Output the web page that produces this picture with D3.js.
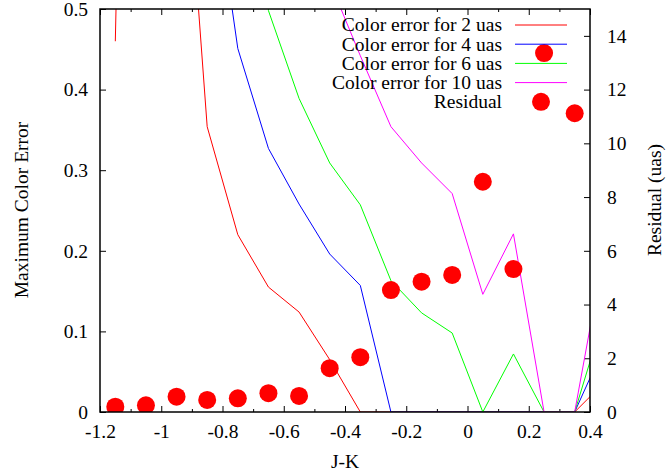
<!DOCTYPE html>
<html><head><meta charset="utf-8">
<script src="https://cdn.jsdelivr.net/npm/d3@7"></script>
<style>
body{margin:0;background:#fff}
text{font-family:"Liberation Serif","Times New Roman",serif;fill:#000}
</style>
</head><body><svg id="c" width="666" height="474"></svg>
<script>
// ---- data ----
const jk = [-1.15,-1.05,-0.95,-0.85,-0.75,-0.65,-0.55,-0.45,-0.35,-0.25,-0.15,-0.05,0.05,0.15,0.25,0.35,0.45];
const err2  = [0.46, 2.2, 0.87, 0.354, 0.22, 0.155, 0.124, 0.065, 0, 0, 0, 0, 0, 0, 0, 0, 0.038];
const err4  = [2.5, 4.4, 1.5, 0.716, 0.451, 0.327, 0.258, 0.196, 0.157, 0, 0, 0, 0, 0, 0, 0, 0.084];
const err6  = [4.0, 6.0, 2.2, 1.3, 0.9, 0.498, 0.389, 0.309, 0.257, 0.163, 0.123, 0.098, 0, 0.072, 0, 0, 0.125];
const err10 = [7.0, 9.0, 3.5, 2.2, 1.5, 0.95, 0.7, 0.534, 0.442, 0.354, 0.309, 0.271, 0.146, 0.221, 0, 0, 0.208];
const residualX = [-1.15,-1.05,-0.95,-0.85,-0.75,-0.65,-0.55,-0.45,-0.35,-0.25,-0.15,-0.05,0.05,0.15,0.25,0.35];
const residual  = [0.2, 0.25, 0.57, 0.45, 0.51, 0.7, 0.6, 1.63, 2.04, 4.54, 4.85, 5.1, 8.57, 5.32, 13.36, 11.12];
const seriesNames = ["Color error for 2 uas","Color error for 4 uas","Color error for 6 uas","Color error for 10 uas"];
const seriesColors = ["#ff0000","#0000ff","#00ff00","#ff00ff"];
const residualName = "Residual";
const xMajor = [-1.2,-1,-0.8,-0.6,-0.4,-0.2,0,0.2,0.4];
const xMinor = [-1.1,-0.9,-0.7,-0.5,-0.3,-0.1,0.1,0.3];
const yTicks = [0,0.1,0.2,0.3,0.4,0.5];
const y2Ticks = [0,2,4,6,8,10,12,14];

// ---- layout ----
const L=100, R=590, T=9, B=412, FS=19.5;
const svg = d3.select("#c");
const x = d3.scaleLinear().domain([-1.2,0.4]).range([L,R]);
const y = d3.scaleLinear().domain([0,0.5]).range([B,T]);
const y2 = d3.scaleLinear().domain([0,15]).range([B,T]);

svg.append("clipPath").attr("id","clip").append("rect")
  .attr("x",L).attr("y",T).attr("width",R-L).attr("height",B-T);

function styleAxis(g){
  g.select(".domain").remove();
  g.selectAll("line").attr("stroke","#000").attr("stroke-width",1);
  g.selectAll("text").attr("font-size",FS).attr("font-family","Liberation Serif").attr("fill","#000");
}
const fmt = d => (Math.abs(d)<1e-9 ? "0" : String(+d.toFixed(2)));

// bottom major
svg.append("g").attr("transform",`translate(0,${B})`)
  .call(d3.axisBottom(x).tickValues(xMajor).tickSize(-6).tickPadding(12).tickFormat(fmt)).call(styleAxis);
svg.append("g").attr("transform",`translate(0,${B})`)
  .call(d3.axisBottom(x).tickValues(xMinor).tickSize(-3).tickFormat("")).call(styleAxis);
// top
svg.append("g").attr("transform",`translate(0,${T})`)
  .call(d3.axisTop(x).tickValues(xMajor).tickSize(-6).tickFormat("")).call(styleAxis);
svg.append("g").attr("transform",`translate(0,${T})`)
  .call(d3.axisTop(x).tickValues(xMinor).tickSize(-3).tickFormat("")).call(styleAxis);
// left
svg.append("g").attr("transform",`translate(${L},0)`)
  .call(d3.axisLeft(y).tickValues(yTicks).tickSize(-6).tickPadding(12).tickFormat(fmt)).call(styleAxis);
// right
svg.append("g").attr("transform",`translate(${R},0)`)
  .call(d3.axisRight(y2).tickValues(y2Ticks).tickSize(-6).tickPadding(17).tickFormat(d3.format("d"))).call(styleAxis);

// lines
const plot = svg.append("g").attr("clip-path","url(#clip)");
const allSeries = [err2,err4,err6,err10];
allSeries.forEach((s,i)=>{
  const line = d3.line().x((d,j)=>x(jk[j])).y(d=>y(d));
  plot.append("path").datum(s).attr("d",line).attr("fill","none")
    .attr("stroke",seriesColors[i]).attr("stroke-width",1);
});
plot.selectAll("circle.res").data(residual).join("circle").attr("class","res")
  .attr("cx",(d,i)=>x(residualX[i])).attr("cy",d=>y2(d)).attr("r",9).attr("fill","#ff0000");

// legend
const lg = svg.append("g");
const rowY = i => 25 + i*19.2;
seriesNames.forEach((n,i)=>{
  lg.append("text").attr("x",502).attr("y",rowY(i)).attr("dy","0.33em")
    .attr("text-anchor","end").attr("font-size",FS).text(n);
  lg.append("line").attr("x1",515).attr("x2",567).attr("y1",rowY(i)).attr("y2",rowY(i))
    .attr("stroke",seriesColors[i]).attr("stroke-width",1);
});
lg.append("text").attr("x",502).attr("y",rowY(4)).attr("dy","0.33em")
  .attr("text-anchor","end").attr("font-size",FS).text(residualName);
lg.append("circle").attr("cx",541).attr("cy",rowY(4)).attr("r",9).attr("fill","#ff0000");

// frame
svg.append("rect").attr("x",L).attr("y",T).attr("width",R-L).attr("height",B-T)
  .attr("fill","none").attr("stroke","#000").attr("stroke-width",1.5);

// axis titles
svg.append("text").attr("x",345).attr("y",468).attr("text-anchor","middle").attr("font-size",FS).text("J-K");
svg.append("text").attr("transform",`translate(28,210) rotate(-90)`).attr("text-anchor","middle")
  .attr("font-size",FS).text("Maximum Color Error");
svg.append("text").attr("transform",`translate(661,200) rotate(-90)`).attr("text-anchor","middle")
  .attr("font-size",FS).text("Residual (uas)");
</script></body></html>
